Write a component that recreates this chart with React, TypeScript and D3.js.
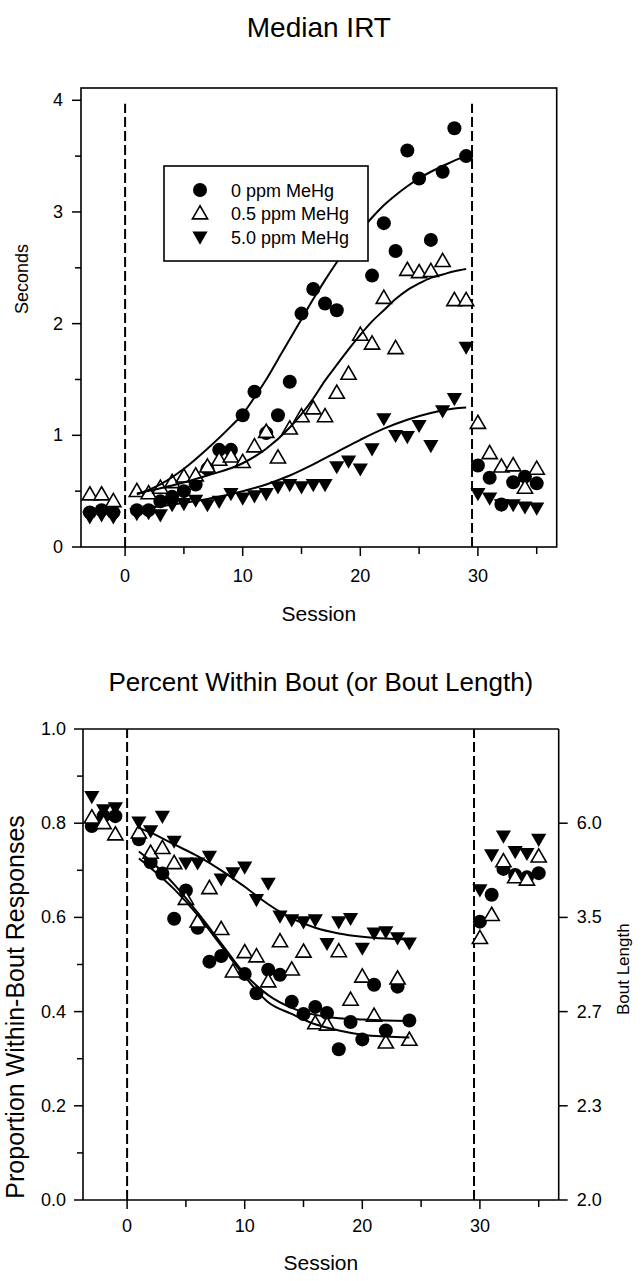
import React from "react";
import * as d3 from "d3";

// ---------- Top panel: Median IRT (seconds) ----------
const irtSessions0 = [-3, -2, -1, 1, 2, 3, 4, 5, 6, 7, 8, 9, 10, 11, 12, 13, 14, 15, 16, 17, 18, 21, 22, 23, 24, 25, 26, 27, 28, 29, 30, 31, 32, 33, 34, 35];
const irtValues0 = [0.31, 0.33, 0.31, 0.33, 0.33, 0.41, 0.45, 0.5, 0.56, 0.7, 0.87, 0.87, 1.18, 1.39, 1.02, 1.18, 1.48, 2.09, 2.31, 2.18, 2.12, 2.43, 2.9, 2.65, 3.55, 3.3, 2.75, 3.36, 3.75, 3.5, 0.73, 0.62, 0.38, 0.58, 0.63, 0.57];

const irtSessions05 = [-3, -2, -1, 1, 2, 3, 4, 5, 6, 7, 8, 9, 10, 11, 12, 13, 14, 15, 16, 17, 18, 19, 20, 21, 22, 23, 24, 25, 26, 27, 28, 29, 30, 31, 32, 33, 34, 35];
const irtValues05 = [0.47, 0.47, 0.41, 0.5, 0.48, 0.53, 0.58, 0.63, 0.64, 0.72, 0.78, 0.81, 0.76, 0.9, 1.03, 0.8, 1.06, 1.17, 1.24, 1.17, 1.38, 1.55, 1.9, 1.82, 2.23, 1.78, 2.48, 2.46, 2.47, 2.56, 2.21, 2.21, 1.11, 0.84, 0.72, 0.73, 0.53, 0.7];

const irtSessions5 = [-3, -2, -1, 1, 2, 3, 4, 5, 6, 7, 8, 9, 10, 11, 12, 13, 14, 15, 16, 17, 18, 19, 20, 21, 22, 23, 24, 25, 26, 27, 28, 29, 30, 31, 32, 33, 34, 35];
const irtValues5 = [0.27, 0.29, 0.27, 0.3, 0.31, 0.29, 0.38, 0.39, 0.42, 0.38, 0.41, 0.48, 0.44, 0.46, 0.48, 0.54, 0.56, 0.54, 0.56, 0.56, 0.72, 0.77, 0.7, 0.88, 1.15, 1.0, 0.99, 1.09, 0.91, 1.22, 1.33, 1.79, 0.48, 0.44, 0.38, 0.38, 0.36, 0.35];

// fitted curves
const irtFitSessions0 = [1, 3, 5, 7, 9, 10, 11, 12, 13, 14, 15, 16, 17, 18, 19, 20, 21, 22, 23, 24, 25, 26, 27, 28, 29];
const irtFit0 = [0.47, 0.56, 0.7, 0.88, 1.08, 1.19, 1.34, 1.5, 1.68, 1.86, 2.04, 2.22, 2.39, 2.55, 2.7, 2.83, 2.95, 3.06, 3.15, 3.23, 3.3, 3.36, 3.41, 3.46, 3.5];
const irtFitSessions05 = [1, 4, 7, 10, 12, 14, 15, 16, 17, 18, 19, 20, 21, 22, 23, 24, 25, 26, 27, 28, 29];
const irtFit05 = [0.48, 0.55, 0.64, 0.75, 0.88, 1.07, 1.19, 1.33, 1.49, 1.63, 1.77, 1.9, 2.02, 2.12, 2.22, 2.3, 2.36, 2.41, 2.44, 2.47, 2.49];
const irtFitSessions5 = [1, 4, 7, 10, 12, 14, 16, 18, 20, 22, 24, 26, 28, 29];
const irtFit5 = [0.34, 0.38, 0.43, 0.5, 0.56, 0.64, 0.74, 0.85, 0.96, 1.06, 1.14, 1.2, 1.24, 1.25];

// ---------- Bottom panel: proportion within-bout ----------
const boutSessions0 = [-3, -2, -1, 1, 2, 3, 4, 5, 6, 7, 8, 10, 11, 12, 13, 14, 15, 16, 17, 18, 19, 20, 21, 22, 23, 24, 30, 31, 32, 33, 34, 35];
const boutValues0 = [0.794, 0.815, 0.815, 0.766, 0.717, 0.693, 0.597, 0.657, 0.578, 0.506, 0.518, 0.48, 0.439, 0.489, 0.478, 0.421, 0.395, 0.41, 0.397, 0.32, 0.378, 0.341, 0.457, 0.36, 0.453, 0.381, 0.591, 0.648, 0.703, 0.69, 0.685, 0.694];

const boutSessions05 = [-3, -2, -1, 1, 2, 3, 4, 5, 6, 7, 8, 9, 10, 11, 12, 13, 14, 15, 16, 17, 18, 19, 20, 21, 22, 23, 24, 30, 31, 32, 33, 34, 35];
const boutValues05 = [0.812, 0.8, 0.776, 0.78, 0.737, 0.747, 0.715, 0.639, 0.591, 0.662, 0.575, 0.485, 0.526, 0.517, 0.464, 0.549, 0.489, 0.527, 0.375, 0.372, 0.528, 0.425, 0.474, 0.391, 0.334, 0.47, 0.34, 0.556, 0.605, 0.719, 0.685, 0.68, 0.729];

const boutSessions5 = [-3, -2, -1, 1, 2, 3, 4, 5, 6, 7, 8, 9, 10, 11, 12, 13, 14, 15, 16, 17, 18, 19, 20, 21, 22, 23, 24, 30, 31, 32, 33, 34, 35];
const boutValues5 = [0.857, 0.829, 0.833, 0.803, 0.784, 0.815, 0.762, 0.716, 0.716, 0.73, 0.682, 0.695, 0.707, 0.638, 0.673, 0.603, 0.595, 0.591, 0.595, 0.545, 0.591, 0.598, 0.535, 0.567, 0.57, 0.557, 0.546, 0.659, 0.733, 0.773, 0.74, 0.736, 0.766];

const boutFitSessions0 = [1, 2, 4, 6, 8, 10, 12, 14, 16, 18, 20, 22, 24];
const boutFit0 = [0.74, 0.72, 0.67, 0.61, 0.545, 0.48, 0.435, 0.408, 0.393, 0.386, 0.383, 0.381, 0.38];
const boutFitSessions05 = [1, 2, 4, 6, 8, 10, 12, 14, 16, 18, 20, 22, 24];
const boutFit05 = [0.725, 0.705, 0.66, 0.605, 0.54, 0.475, 0.42, 0.395, 0.373, 0.36, 0.351, 0.347, 0.345];
const boutFitSessions5 = [1, 2, 4, 6, 8, 10, 12, 14, 16, 18, 20, 22, 24];
const boutFit5 = [0.79, 0.78, 0.755, 0.73, 0.7, 0.665, 0.628, 0.598, 0.578, 0.566, 0.559, 0.555, 0.553];

// ---------- axes / labels ----------
const xTickValues = [0, 10, 20, 30];
const xMinorTicks = [5, 15, 25, 35];
const irtTicks = [0, 1, 2, 3, 4];
const irtMinor = [0.5, 1.5, 2.5, 3.5];
const propTicks = [0, 0.2, 0.4, 0.6, 0.8, 1.0];
const propMinor = [0.1, 0.3, 0.5, 0.7, 0.9];
const boutLengthLabels = ["2.0", "2.3", "2.7", "3.5", "6.0"];
const boutLengthAt = [0, 0.2, 0.4, 0.6, 0.8];
const phaseLines = [0, 29.5];
const legendLabels = ["0 ppm MeHg", "0.5 ppm MeHg", "5.0 ppm MeHg"];

const FONT = "'Liberation Sans', Arial, Helvetica, sans-serif";

const zip = (s: number[], v: number[]) => s.map((d, i) => ({ s: d, v: v[i] }));

const circlePath = d3.symbol().type(d3.symbolCircle).size(Math.PI * 7 * 7)() as string;
const triPath = d3.symbol().type(d3.symbolTriangle).size(100)() as string;

function Marker({ kind, x, y }: { kind: string; x: number; y: number }) {
  if (kind === "circle") return <path d={circlePath} transform={`translate(${x},${y})`} fill="#000" />;
  if (kind === "up")
    return <path d={triPath} transform={`translate(${x},${y + 1})`} fill="#fff" stroke="#000" strokeWidth={1.6} />;
  return <path d={triPath} transform={`translate(${x},${y - 1}) rotate(180)`} fill="#000" />;
}

export default function App() {
  // top panel scales
  const xTop = d3.scaleLinear().domain([-3.75, 36.7]).range([81, 556.7]);
  const yTop = d3.scaleLinear().domain([0, 4.11]).range([547, 88]);
  // bottom panel scales
  const xBot = d3.scaleLinear().domain([-3.75, 36.7]).range([83, 558.7]);
  const yBot = d3.scaleLinear().domain([0, 1]).range([1200, 729]);

  const lineTop = d3
    .line<{ s: number; v: number }>()
    .x((d) => xTop(d.s))
    .y((d) => yTop(d.v))
    .curve(d3.curveMonotoneX);
  const lineBot = d3
    .line<{ s: number; v: number }>()
    .x((d) => xBot(d.s))
    .y((d) => yBot(d.v))
    .curve(d3.curveMonotoneX);

  const topSeries = [
    { kind: "circle", pts: zip(irtSessions0, irtValues0) },
    { kind: "up", pts: zip(irtSessions05, irtValues05) },
    { kind: "down", pts: zip(irtSessions5, irtValues5) },
  ];
  const topFits = [zip(irtFitSessions0, irtFit0), zip(irtFitSessions05, irtFit05), zip(irtFitSessions5, irtFit5)];
  const botSeries = [
    { kind: "circle", pts: zip(boutSessions0, boutValues0) },
    { kind: "up", pts: zip(boutSessions05, boutValues05) },
    { kind: "down", pts: zip(boutSessions5, boutValues5) },
  ];
  const botFits = [zip(boutFitSessions0, boutFit0), zip(boutFitSessions05, boutFit05), zip(boutFitSessions5, boutFit5)];

  const [tx0, tx1] = xTop.range();
  const [ty0, ty1] = yTop.range();
  const [bx0, bx1] = xBot.range();
  const [by0, by1] = yBot.range();

  return (
    <svg
      width={642}
      height={1281}
      style={{ position: "absolute", left: 0, top: 0, background: "#fff" }}
      fontFamily={FONT}
    >
      <rect x={0} y={0} width={642} height={1281} fill="#fff" />

      {/* ================= TOP PANEL ================= */}
      <text x={(tx0 + tx1) / 2} y={37} textAnchor="middle" fontSize={28}>
        Median IRT
      </text>
      {/* frame */}
      <rect x={tx0} y={ty1} width={tx1 - tx0} height={ty0 - ty1} fill="none" stroke="#000" strokeWidth={1.6} />
      {/* y ticks */}
      {irtTicks.map((t) => (
        <g key={"yt" + t}>
          <line x1={tx0 - 9} x2={tx0} y1={yTop(t)} y2={yTop(t)} stroke="#000" strokeWidth={1.5} />
          <text x={tx0 - 18} y={yTop(t) + 6} textAnchor="end" fontSize={18}>
            {t}
          </text>
        </g>
      ))}
      {irtMinor.map((t) => (
        <line key={"ym" + t} x1={tx0 - 6} x2={tx0} y1={yTop(t)} y2={yTop(t)} stroke="#000" strokeWidth={1.5} />
      ))}
      {/* x ticks */}
      {xTickValues.map((t) => (
        <g key={"xt" + t}>
          <line x1={xTop(t)} x2={xTop(t)} y1={ty0} y2={ty0 + 9} stroke="#000" strokeWidth={1.5} />
          <text x={xTop(t)} y={ty0 + 35} textAnchor="middle" fontSize={18}>
            {t}
          </text>
        </g>
      ))}
      {xMinorTicks.map((t) => (
        <line key={"xm" + t} x1={xTop(t)} x2={xTop(t)} y1={ty0} y2={ty0 + 7} stroke="#000" strokeWidth={1.5} />
      ))}
      <text x={(tx0 + tx1) / 2} y={621} textAnchor="middle" fontSize={21}>
        Session
      </text>
      <text transform={`translate(28,${yTop(2.4)}) rotate(-90)`} textAnchor="middle" fontSize={18}>
        Seconds
      </text>
      {/* phase lines */}
      {phaseLines.map((p) => (
        <line
          key={"tp" + p}
          x1={xTop(p)}
          x2={xTop(p)}
          y1={yTop(0)}
          y2={yTop(3.97)}
          stroke="#000"
          strokeWidth={2}
          strokeDasharray="10 4"
        />
      ))}
      {/* markers */}
      {topSeries.map((ser) =>
        ser.pts.map((d, i) => <Marker key={ser.kind + i} kind={ser.kind} x={xTop(d.s)} y={yTop(d.v)} />)
      )}
      {/* fits */}
      {topFits.map((f, i) => (
        <path key={"tf" + i} d={lineTop(f) as string} fill="none" stroke="#000" strokeWidth={2} />
      ))}
      {/* legend */}
      <rect x={164} y={166} width={204} height={95} fill="#fff" stroke="#000" strokeWidth={1.6} />
      {legendLabels.map((lab, i) => (
        <g key={lab}>
          <Marker kind={["circle", "up", "down"][i]} x={200} y={190 + i * 23.5} />
          <text x={231} y={190 + i * 23.5 + 6.5} fontSize={18}>
            {lab}
          </text>
        </g>
      ))}

      {/* ================= BOTTOM PANEL ================= */}
      <text x={(bx0 + bx1) / 2} y={691} textAnchor="middle" fontSize={26}>
        Percent Within Bout (or Bout Length)
      </text>
      <line x1={bx0} x2={bx1} y1={by1} y2={by1} stroke="#000" strokeWidth={1.6} />
      <line x1={bx0} x2={bx1} y1={by0} y2={by0} stroke="#000" strokeWidth={1.6} />
      <line x1={bx0} x2={bx0} y1={by0} y2={by1} stroke="#000" strokeWidth={1.6} />
      <line x1={bx1} x2={bx1} y1={by0} y2={by1} stroke="#000" strokeWidth={1.6} />
      {propTicks.map((t) => (
        <g key={"pt" + t}>
          <line x1={bx0 - 9} x2={bx0} y1={yBot(t)} y2={yBot(t)} stroke="#000" strokeWidth={1.5} />
          <text x={bx0 - 17} y={yBot(t) + 6} textAnchor="end" fontSize={18}>
            {t.toFixed(1)}
          </text>
        </g>
      ))}
      {propMinor.map((t) => (
        <line key={"pm" + t} x1={bx0 - 6} x2={bx0} y1={yBot(t)} y2={yBot(t)} stroke="#000" strokeWidth={1.5} />
      ))}
      {boutLengthAt.map((t, i) => (
        <g key={"bl" + t}>
          <line x1={bx1} x2={bx1 + 9} y1={yBot(t)} y2={yBot(t)} stroke="#000" strokeWidth={1.5} />
          <text x={bx1 + 18} y={yBot(t) + 6} textAnchor="start" fontSize={18}>
            {boutLengthLabels[i]}
          </text>
        </g>
      ))}
      {xTickValues.map((t) => (
        <g key={"bxt" + t}>
          <line x1={xBot(t)} x2={xBot(t)} y1={by0} y2={by0 + 9} stroke="#000" strokeWidth={1.5} />
          <text x={xBot(t)} y={by0 + 32} textAnchor="middle" fontSize={18}>
            {t}
          </text>
        </g>
      ))}
      {xMinorTicks.map((t) => (
        <line key={"bxm" + t} x1={xBot(t)} x2={xBot(t)} y1={by0} y2={by0 + 7} stroke="#000" strokeWidth={1.5} />
      ))}
      <text x={(bx0 + bx1) / 2} y={1270} textAnchor="middle" fontSize={21}>
        Session
      </text>
      <text transform={`translate(24,${yBot(0.41)}) rotate(-90)`} textAnchor="middle" fontSize={25}>
        Proportion Within-Bout Responses
      </text>
      <text transform={`translate(629,${yBot(0.49)}) rotate(-90)`} textAnchor="middle" fontSize={17}>
        Bout Length
      </text>
      {phaseLines.map((p) => (
        <line
          key={"bp" + p}
          x1={xBot(p)}
          x2={xBot(p)}
          y1={yBot(0)}
          y2={yBot(1)}
          stroke="#000"
          strokeWidth={2}
          strokeDasharray="10 4"
        />
      ))}
      {botSeries.map((ser) =>
        ser.pts.map((d, i) => <Marker key={"b" + ser.kind + i} kind={ser.kind} x={xBot(d.s)} y={yBot(d.v)} />)
      )}
      {botFits.map((f, i) => (
        <path key={"bf" + i} d={lineBot(f) as string} fill="none" stroke="#000" strokeWidth={2} />
      ))}
    </svg>
  );
}
